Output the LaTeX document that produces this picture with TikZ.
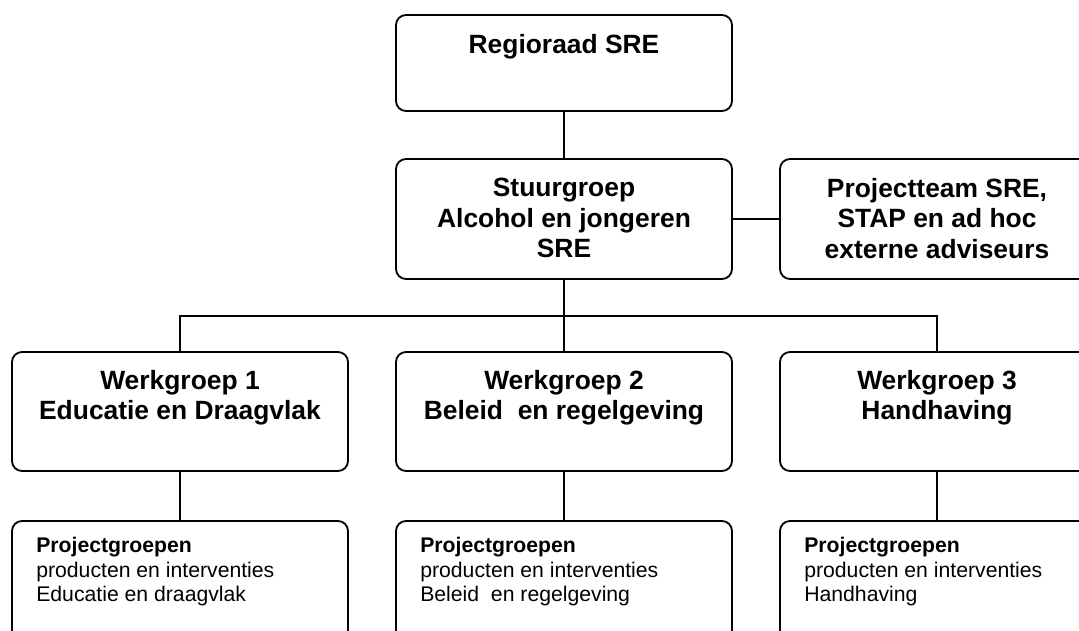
\documentclass[tikz,border=0pt]{standalone}
\usepackage{fontspec}
\setmainfont{Liberation Sans}
\usetikzlibrary{positioning}
\begin{document}
\begin{tikzpicture}[x=1pt, y=-1pt,
        box/.style={draw, line width=1.8pt, rounded corners=10pt, inner sep=0pt,
            minimum width=336pt},
        narrowbox/.style={box, minimum width=314pt},
        head/.style={align=center, inner sep=0pt,
            font=\fontsize{26.4}{30.5}\selectfont\bfseries},
        note/.style={align=left, inner sep=0pt,
            font=\fontsize{21.2}{24.5}\selectfont},
        link/.style={line width=1.3pt}]
        \useasboundingbox (0,0) rectangle (1079,630);
        \clip (0,0) rectangle (1079,630);

        % Top level
        \node[box, minimum height=96pt] (reg) at (564,63) {};
        \node[head, below=20pt of reg.north] (regtxt) {Regioraad SRE};

        % Steering group and project team
        \node[box, minimum height=120pt] (stuur) at (564,219) {};
        \node[head, below=20pt of stuur.north] (stuurtxt) {Stuurgroep\\Alcohol en jongeren\\SRE};
        \node[narrowbox, minimum height=120pt] (team) at (937,219) {};
        \node[head, below=20pt of team.north] (teamtxt) {Projectteam SRE,\\STAP en ad hoc\\externe adviseurs};

        % Working groups
        \node[box, minimum height=119pt] (wg1) at (180,411.5) {};
        \node[box, minimum height=119pt] (wg2) at (564,411.5) {};
        \node[narrowbox, minimum height=119pt] (wg3) at (937,411.5) {};
        \node[head, below=19pt of wg1.north] (wg1txt) {Werkgroep 1\\Educatie en Draagvlak};
        \node[head, below=19pt of wg2.north] (wg2txt) {Werkgroep 2\\Beleid\ \ en regelgeving};
        \node[head, below=19pt of wg3.north] (wg3txt) {Werkgroep 3\\Handhaving};

        % Project groups
        \node[box, minimum height=130pt] (pg1) at (180,586) {};
        \node[box, minimum height=130pt] (pg2) at (564,586) {};
        \node[narrowbox, minimum height=130pt] (pg3) at (937,586) {};
        \node[note, below right=17pt and 25pt of pg1.north west] (pg1txt)
            {\textbf{Projectgroepen}\\producten en interventies\\Educatie en draagvlak};
        \node[note, below right=17pt and 25pt of pg2.north west] (pg2txt)
            {\textbf{Projectgroepen}\\producten en interventies\\Beleid\ \ en regelgeving};
        \node[note, below right=17pt and 25pt of pg3.north west] (pg3txt)
            {\textbf{Projectgroepen}\\producten en interventies\\Handhaving};

        % Connectors
        \coordinate (bus) at (564,316);
        \draw[link] (reg.south) -- (stuur.north);
        \draw[link] (stuur.east) -- (team.west);
        \draw[link] (stuur.south) -- (wg2.north);
        \draw[link] (wg1.north) |- (bus) -| (wg3.north);
        \draw[link] (wg1.south) -- (pg1.north);
        \draw[link] (wg2.south) -- (pg2.north);
        \draw[link] (wg3.south) -- (pg3.north);
    \end{tikzpicture}
\end{document}
